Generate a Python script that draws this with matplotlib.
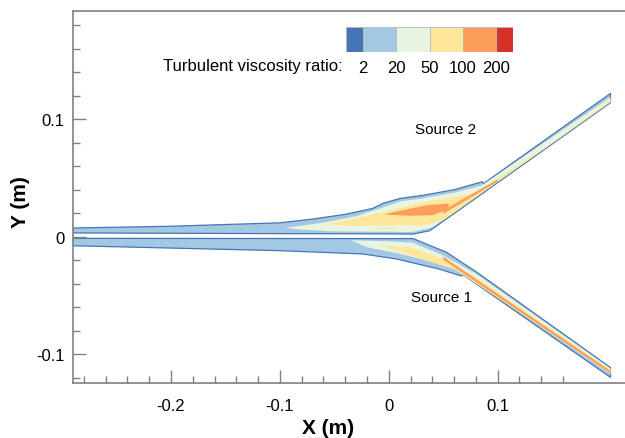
import numpy as np
import matplotlib
matplotlib.use('Agg')
import matplotlib.pyplot as plt
from matplotlib.ticker import FixedLocator, FuncFormatter

plt.rcParams['font.family'] = ['Liberation Sans', 'DejaVu Sans']
plt.rcParams['axes.unicode_minus'] = False

# colour legend (turbulent viscosity ratio levels)
level_labels = ['2', '20', '50', '100', '200']
level_colors = ['#4575b4', '#a3c8e3', '#e8f5e0', '#fee79a', '#fc9d5c', '#d73027']
level_widths = [0.5, 1, 1, 1, 1, 0.5]

# contour outlines (x, y in m)
# upper inlet + plume + source 2 jet
up_top_x = [-0.29, -0.2, -0.1, -0.07, -0.04, -0.015, -0.005, 0.01, 0.03, 0.06, 0.086, 0.087, 0.2036]
up_top_y = [0.0074, 0.0089, 0.0118, 0.015, 0.019, 0.024, 0.0285, 0.0325, 0.035, 0.040, 0.0468, 0.0452, 0.1220]
up_bot_x = [-0.29, -0.1, 0.0, 0.0223, 0.0376, 0.068, 0.2036]
up_bot_y = [0.0032, 0.0026, 0.0024, 0.0022, 0.0051, 0.0250, 0.1142]

# lower inlet + plume + source 1 jet
lo_top_x = [-0.29, 0.0, 0.0223, 0.053, 0.0807, 0.2036]
lo_top_y = [-0.0014, -0.0016, -0.0016, -0.0133, -0.0302, -0.1115]
lo_bot_x = [-0.29, -0.1, -0.024, 0.0073, 0.0468, 0.0667, 0.068, 0.2036]
lo_bot_y = [-0.0077, -0.0119, -0.0147, -0.019, -0.0277, -0.0335, -0.0322, -0.1198]

# 20-50 level
up_green_top_x = [-0.095, -0.06, -0.03, -0.005, 0.01, 0.03, 0.06, 0.085, 0.2036]
up_green_top_y = [0.0075, 0.012, 0.0175, 0.025, 0.030, 0.0325, 0.0375, 0.0435, 0.1188]
up_green_bot_x = [-0.095, -0.08, -0.05, 0.0, 0.022, 0.04, 0.068, 0.2036]
up_green_bot_y = [0.0075, 0.006, 0.0045, 0.0042, 0.004, 0.008, 0.0258, 0.1146]

lo_green_top_x = [-0.035, 0.0, 0.022, 0.05, 0.0807, 0.2036]
lo_green_top_y = [-0.003, -0.004, -0.005, -0.016, -0.032, -0.1122]
lo_green_bot_x = [-0.035, -0.02, 0.01, 0.04, 0.066, 0.2036]
lo_green_bot_y = [-0.003, -0.009, -0.0145, -0.0215, -0.0295, -0.1170]

# 50-100 level
up_yel_top_x = [-0.06, -0.03, 0.0, 0.03, 0.06, 0.08, 0.15, 0.2036]
up_yel_top_y = [0.0105, 0.0155, 0.022, 0.029, 0.034, 0.037, 0.080, 0.1164]
up_yel_bot_x = [-0.06, -0.03, 0.0, 0.03, 0.05, 0.068, 0.2036]
up_yel_bot_y = [0.0105, 0.0092, 0.0098, 0.0095, 0.014, 0.0258, 0.1148]

up_streak_x = [-0.013, 0.008]
up_streak_top = [0.0072, 0.0082]
up_streak_bot = [0.0064, 0.0070]

lo_yel_top_x = [-0.01, 0.02, 0.045, 0.08, 0.2036]
lo_yel_top_y = [-0.007, -0.009, -0.017, -0.0345, -0.1134]
lo_yel_bot_x = [-0.01, 0.01, 0.035, 0.06, 0.2036]
lo_yel_bot_y = [-0.007, -0.0125, -0.0205, -0.0275, -0.1160]

# 100-200 level
up_or_top_x = [-0.003, 0.015, 0.035, 0.055]
up_or_top_y = [0.0193, 0.0230, 0.0268, 0.0282]
up_or_bot_x = [-0.003, 0.02, 0.04, 0.055]
up_or_bot_y = [0.0188, 0.0178, 0.0183, 0.0233]

up_or_line_x = [0.05, 0.10]
up_or_line_top = [0.0225, 0.0488]
up_or_line_bot = [0.0195, 0.0470]

lo_or_line_x = [0.05, 0.2036]
lo_or_line_top = [-0.0170, -0.1144]
lo_or_line_bot = [-0.0196, -0.1165]


def patch(ax, tx, ty, bx, by, color, edge='none', lw=0.0):
    # polygon = top edge left->right, then bottom edge right->left
    xs = list(tx) + list(bx)[::-1]
    ys = list(ty) + list(by)[::-1]
    ax.fill(xs, ys, facecolor=color, edgecolor=edge, lw=lw, joinstyle='round')


fig = plt.figure(figsize=(6.25, 4.39), dpi=100)
ax = fig.add_axes([73 / 625, 1 - 384 / 439, 552 / 625, 372 / 439])

blue, light, green, yellow, orange = level_colors[:5]

patch(ax, up_top_x, up_top_y, up_bot_x, up_bot_y, light, edge=blue, lw=0.9)
patch(ax, lo_top_x, lo_top_y, lo_bot_x, lo_bot_y, light, edge=blue, lw=0.9)

patch(ax, up_green_top_x, up_green_top_y, up_green_bot_x, up_green_bot_y, green)
patch(ax, lo_green_top_x, lo_green_top_y, lo_green_bot_x, lo_green_bot_y, green)

patch(ax, up_yel_top_x, up_yel_top_y, up_yel_bot_x, up_yel_bot_y, yellow)
patch(ax, up_streak_x, up_streak_top, up_streak_x, up_streak_bot, yellow)
patch(ax, lo_yel_top_x, lo_yel_top_y, lo_yel_bot_x, lo_yel_bot_y, yellow)

patch(ax, up_or_top_x, up_or_top_y, up_or_bot_x, up_or_bot_y, orange)
patch(ax, up_or_line_x, up_or_line_top, up_or_line_x, up_or_line_bot, orange)
patch(ax, lo_or_line_x, lo_or_line_top, lo_or_line_x, lo_or_line_bot, orange)

ax.text(0.0523, 0.0917, 'Source 2', ha='center', va='center', fontsize=11)
ax.text(0.0484, -0.0516, 'Source 1', ha='center', va='center', fontsize=11)

ax.set_xlim(-0.290, 0.2169)
ax.set_ylim(-0.1246, 0.1922)

fmt = FuncFormatter(lambda v, p: f'{v:g}')
ax.xaxis.set_major_locator(FixedLocator([-0.2, -0.1, 0.0, 0.1]))
ax.xaxis.set_minor_locator(FixedLocator(np.arange(-0.28, 0.17, 0.02)))
ax.yaxis.set_major_locator(FixedLocator([-0.1, 0.0, 0.1]))
ax.yaxis.set_minor_locator(FixedLocator(np.arange(-0.12, 0.19, 0.02)))
ax.xaxis.set_major_formatter(fmt)
ax.yaxis.set_major_formatter(fmt)

ax.tick_params(which='both', direction='in', color='#808080', width=1.0, labelsize=12)
ax.tick_params(which='major', length=9.5)
ax.tick_params(which='minor', length=5)
ax.tick_params(axis='x', pad=11)
ax.tick_params(axis='y', pad=6)
for side in ['left', 'bottom', 'top']:
    ax.spines[side].set_color('#808080')
    ax.spines[side].set_linewidth(1.2)
ax.spines['right'].set_visible(False)

fig.text(328 / 625, 1 - 429 / 439, 'X (m)', ha='center', va='center',
         fontsize=15, fontweight='bold')
fig.text(21 / 625, 1 - 202 / 439, 'Y (m)', ha='center', va='center',
         fontsize=15, fontweight='bold', rotation=90)

# colour legend
cax = fig.add_axes([346 / 625, 1 - 53 / 439, 167 / 625, 25 / 439])
lefts = np.cumsum([0] + level_widths[:-1])
cax.bar(lefts, 1, width=level_widths, align='edge', color=level_colors,
        edgecolor='#b8b8b8', lw=0.6)
cax.set_xlim(0, sum(level_widths))
cax.set_ylim(0, 1)
cax.set_xticks(np.cumsum(level_widths)[:-1])
cax.set_xticklabels(level_labels)
cax.set_yticks([])
cax.tick_params(axis='x', length=0, pad=6, labelsize=12)
for s in cax.spines.values():
    s.set_visible(False)
fig.text(343 / 625, 1 - 67 / 439, 'Turbulent viscosity ratio:', ha='right',
         va='center', fontsize=12)

plt.savefig('out.png', dpi=100)
